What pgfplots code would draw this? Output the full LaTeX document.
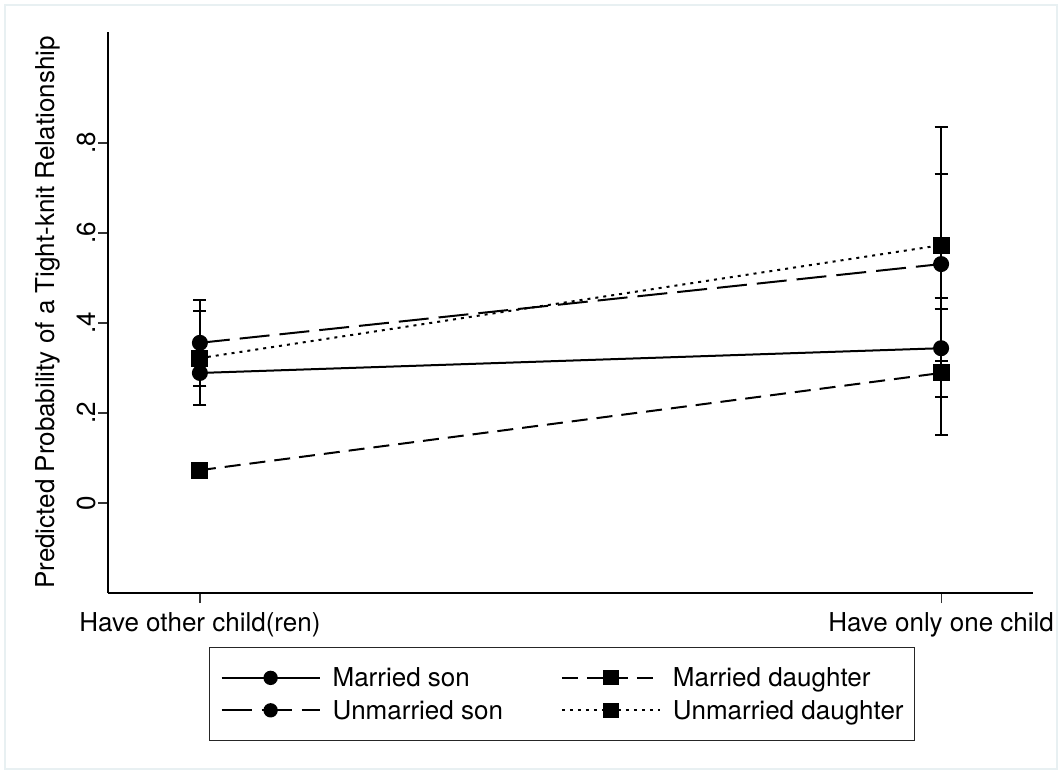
\documentclass[border=0pt]{standalone}
\usepackage{pgfplots}
\pgfplotsset{compat=1.18}
\usepackage{fontspec}
\setmainfont{TeX Gyre Heros}

\pgfplotsset{
  cibars/.style={
    error bars/.cd,
      y dir=both, y explicit,
      error bar style={solid, line width=2pt, black},
      error mark options={solid, rotate=90, mark size=6.5pt, line width=2pt, black},
  },
}

\begin{document}
\begin{tikzpicture}[x=1pt,y=1pt]
% page background and faint outer frame
\fill[white] (0,0) rectangle (1060,-772);
\draw[color={rgb,255:red,232;green,240;blue,242}, line width=1.5pt] (5,-5) rectangle (1057,-769);

\begin{axis}[
  at={(108pt,-593pt)}, anchor=south west,
  scale only axis, width=925pt, height=561pt,
  xmin=-0.124, xmax=1.124,
  ymin=-0.2, ymax=1.0467,
  axis x line*=bottom, axis y line*=left,
  axis line style={-, line width=1.2pt, black},
  tick align=outside, major tick length=10pt,
  tick style={line width=1.2pt, black!80},
  xtick={0,1},
  xticklabels={Have other child(ren), Have only one child},
  ytick={0,0.2,0.4,0.6,0.8},
  yticklabels={0,.2,.4,.6,.8},
  ticklabel style={font=\fontsize{26}{30}\selectfont},
  xticklabel style={anchor=north, inner sep=0pt},
  yticklabel style={rotate=90, anchor=south, inner sep=0pt},
  xticklabel shift=9pt,
  yticklabel shift=2pt,
  ylabel={Predicted Probability of a Tight-knit Relationship},
  every axis y label/.style={at={(axis description cs:-0.0649,0.5)}, rotate=90, anchor=center, font=\fontsize{26}{30}\selectfont},
  legend columns=2,
  legend cell align=left,
  legend style={
    at={(axis description cs:0.1092,-0.0963)}, anchor=north west,
    draw=black!85, line width=1.2pt,
    font=\fontsize{26}{30}\selectfont,
    inner xsep=11pt, inner ysep=20pt,
    row sep=12pt,
    nodes={inner sep=0pt},
    /tikz/every odd column/.append style={column sep=12pt},
    /tikz/every even column/.append style={column sep=58pt},
  },
  legend image code/.code={
    \draw[#1, mark repeat=2, mark phase=2, /tikz/every mark/.append style={scale=0.88}]
      plot coordinates {(0pt,0pt) (49pt,0pt) (98pt,0pt)};
  },
  clip=false,
]

% Married son
\addplot[black, line width=2pt, solid, mark=*, mark size=7pt,
  mark options={solid, fill=black}, cibars]
  table[x=x, y=y, y error plus=ep, y error minus=em] {
x y ep em
0 0.289 0.030 0.030
1 0.344 0.112 0.108
};
\addlegendentry{Married son}

% Married daughter
\addplot[black, line width=2pt, dash pattern=on 16pt off 9pt, mark=square*, mark size=7.5pt,
  mark options={solid, fill=black}, cibars]
  table[x=x, y=y, y error plus=ep, y error minus=em] {
x y ep em
0 0.073 0.012 0.012
1 0.289 0.142 0.138
};
\addlegendentry{Married daughter}

% Unmarried son
\addplot[black, line width=2pt, dash pattern=on 30pt off 10pt, mark=*, mark size=7pt,
  mark options={solid, fill=black}, cibars]
  table[x=x, y=y, y error plus=ep, y error minus=em] {
x y ep em
0 0.356 0.095 0.095
1 0.531 0.200 0.215
};
\addlegendentry{Unmarried son}

% Unmarried daughter
\addplot[black, line width=2pt, dash pattern=on 3pt off 5pt, mark=square*, mark size=7.5pt,
  mark options={solid, fill=black}, cibars]
  table[x=x, y=y, y error plus=ep, y error minus=em] {
x y ep em
0 0.322 0.105 0.104
1 0.573 0.263 0.258
};
\addlegendentry{Unmarried daughter}

\end{axis}
\end{tikzpicture}
\end{document}
